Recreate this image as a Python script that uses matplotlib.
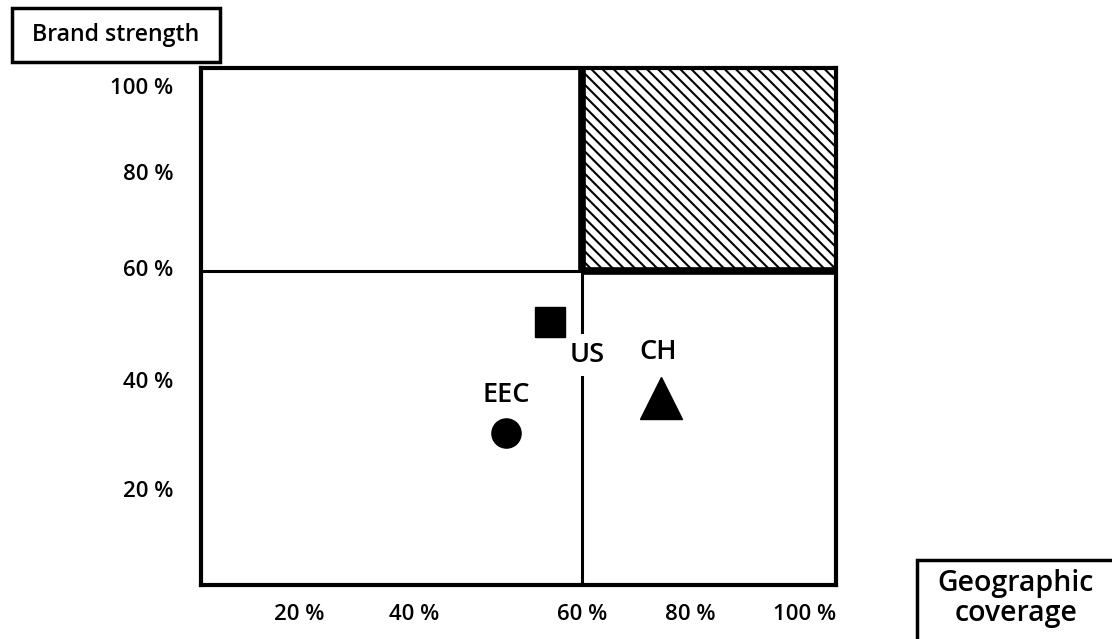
import matplotlib.pyplot as plt
from matplotlib.patches import Rectangle

plt.rcParams['font.family'] = ['Open Sans', 'DejaVu Sans']
plt.rcParams['hatch.linewidth'] = 1.5

# country positions: geographic coverage (%) vs brand strength (%)
countries = ["US", "EEC", "CH"]
coverage = [55, 48, 72.5]
strength = [50, 28, 35]
markers = ["s", "o", "^"]
marker_sizes = [21, 21, 30]

# axis labels as printed
xtick_labels = ["20 %", "40 %", "60 %", "80 %", "100 %"]
xtick_pos = [15.5, 33.5, 60, 77, 95]
ytick_labels = ["20 %", "40 %", "60 %", "80 %", "100 %"]
ytick_pos = [17, 38.5, 60.5, 79.5, 96.5]

split_x = 60
split_y = 60

fig = plt.figure(figsize=(11.12, 6.39), dpi=100)
ax = fig.add_axes([0.1808, 0.0845, 0.571, 0.8091])
ax.set_xlim(0, 100)
ax.set_ylim(-1.9, 100)

# hatched target quadrant
ax.add_patch(Rectangle((split_x, split_y), 100 - split_x, 100 - split_y,
                       facecolor="white", edgecolor="black", hatch="\\\\\\",
                       linewidth=0, zorder=1))

# quadrant dividers (thin lower/left, heavy around the target quadrant)
ax.plot([split_x, split_x], [-1.9, split_y], color="black", lw=2.2, zorder=2)
ax.plot([0, split_x], [split_y, split_y], color="black", lw=2.2, zorder=2)
ax.plot([split_x, split_x], [split_y, 100], color="black", lw=5.5,
        solid_capstyle="butt", zorder=3)
ax.plot([split_x, 100], [split_y, split_y], color="black", lw=5.5,
        solid_capstyle="butt", zorder=3)

for x, y, m, s in zip(coverage, strength, markers, marker_sizes):
    ax.plot(x, y, marker=m, markersize=s, color="black", ls="none", zorder=5)

label_offsets = {"US": (5.8, -6.5), "EEC": (0, 7.5), "CH": (-0.5, 9)}
for name, x, y in zip(countries, coverage, strength):
    dx, dy = label_offsets[name]
    t = ax.text(x + dx, y + dy, name, fontsize=19.5, fontweight="semibold",
                ha="center", va="center", zorder=4)
    if name == "US":
        t.set_bbox(dict(facecolor="white", edgecolor="none", pad=5))

for sp in ax.spines.values():
    sp.set_linewidth(3)
    sp.set_zorder(6)

ax.set_xticks(xtick_pos)
ax.set_xticklabels(xtick_labels, fontsize=16, fontweight="semibold")
ax.set_yticks(ytick_pos)
ax.set_yticklabels(ytick_labels, fontsize=16, fontweight="semibold")
ax.tick_params(length=0, pad=14)
ax.tick_params(axis="y", pad=20)

# axis title boxes
fig.patches.append(Rectangle((12 / 1112, 1 - 62 / 639), 208 / 1112, 54 / 639,
                             transform=fig.transFigure, facecolor="white",
                             edgecolor="black", lw=2.5))
fig.text(116 / 1112, 1 - 35 / 639, "Brand strength", fontsize=16.7,
         fontweight="semibold", ha="center", va="center")

fig.patches.append(Rectangle((917 / 1112, -0.1), 0.3, 0.1 + (639 - 560) / 639,
                             transform=fig.transFigure, facecolor="white",
                             edgecolor="black", lw=2.5))
fig.text(1016 / 1112, 1 - 583 / 639, "Geographic", fontsize=20.5,
         fontweight="semibold", ha="center", va="center")
fig.text(1016 / 1112, 1 - 614 / 639, "coverage", fontsize=20.5,
         fontweight="semibold", ha="center", va="center")

fig.savefig("out.png", dpi=100)
